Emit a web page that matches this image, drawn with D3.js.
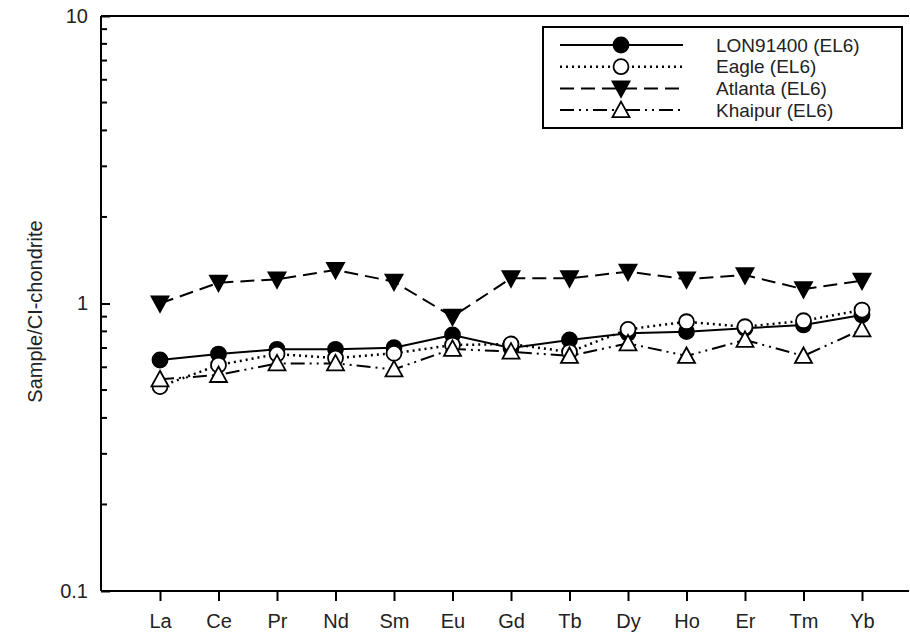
<!DOCTYPE html>
<html>
<head>
<meta charset="utf-8">
<script src="https://cdn.jsdelivr.net/npm/d3@7"></script>
<style>
  body { margin: 0; background: #fff; }
  svg text { font-family: "Liberation Sans", Arial, sans-serif; fill: #222; }
</style>
</head>
<body>
<svg id="chart" width="910" height="637"></svg>
<script>
// REE pattern, CI-chondrite normalised
var elements = ["La", "Ce", "Pr", "Nd", "Sm", "Eu", "Gd", "Tb", "Dy", "Ho", "Er", "Tm", "Yb"];
var lon91400 = [0.636, 0.667, 0.693, 0.693, 0.702, 0.777, 0.700, 0.747, 0.788, 0.798, 0.820, 0.842, 0.912];
var eagle    = [0.514, 0.611, 0.667, 0.646, 0.671, 0.717, 0.723, 0.678, 0.813, 0.864, 0.830, 0.871, 0.949];
var atlanta  = [1.000, 1.181, 1.214, 1.308, 1.191, 0.900, 1.224, 1.224, 1.290, 1.214, 1.256, 1.121, 1.200];
var khaipur  = [0.545, 0.564, 0.619, 0.619, 0.590, 0.695, 0.680, 0.657, 0.727, 0.657, 0.747, 0.657, 0.813];
var yTicks = [0.1, 1, 10];
var yTitle = "Sample/CI-chondrite";

var series = [
  { name: "LON91400 (EL6)", values: lon91400, dash: null,            marker: "circle",   fill: "#000" },
  { name: "Eagle (EL6)",    values: eagle,    dash: "2,4",           marker: "circle",   fill: "#fff" },
  { name: "Atlanta (EL6)",  values: atlanta,  dash: "14,7",          marker: "triDown",  fill: "#000" },
  { name: "Khaipur (EL6)",  values: khaipur,  dash: "14,5,2,5,2,5",  marker: "triUp",    fill: "#fff" }
];

var margin = { left: 101, top: 16, right: 909, bottom: 591 };
var svg = d3.select("#chart");

var x = d3.scalePoint()
  .domain(elements)
  .range([160, 862]);

var y = d3.scaleLog()
  .domain([0.1, 10])
  .range([margin.bottom, margin.top]);

// top frame line
svg.append("line")
  .attr("x1", margin.left).attr("x2", margin.right)
  .attr("y1", margin.top).attr("y2", margin.top)
  .attr("stroke", "#000").attr("stroke-width", 2);

// x axis
var xAxis = svg.append("g")
  .attr("transform", `translate(0,${margin.bottom})`)
  .call(d3.axisBottom(x).tickSize(10).tickPadding(13));
xAxis.select(".domain")
  .attr("d", `M${margin.left},0H${margin.right}`)
  .attr("stroke-width", 2);
xAxis.selectAll(".tick line").attr("stroke-width", 2);
xAxis.selectAll("text").attr("font-size", 20).style("fill", "#222");

// y axis, ticks pointing inwards
var minor = [];
[0.1, 1].forEach(function(d) {
  for (var i = 2; i <= 9; i++) minor.push(d * i);
});
var yAxis = svg.append("g")
  .attr("transform", `translate(${margin.left},0)`)
  .call(d3.axisRight(y).tickValues(yTicks).tickSize(9).tickFormat(d3.format("~g")));
yAxis.select(".domain").attr("d", `M0,${margin.top}V${margin.bottom}`).attr("stroke-width", 2);
yAxis.selectAll(".tick line").attr("stroke-width", 2);
yAxis.selectAll("text")
  .attr("x", -13)
  .attr("text-anchor", "end")
  .attr("font-size", 20)
  .style("fill", "#222");

svg.append("g")
  .selectAll("line")
  .data(minor)
  .join("line")
  .attr("x1", margin.left).attr("x2", margin.left + 6)
  .attr("y1", d => y(d)).attr("y2", d => y(d))
  .attr("stroke", "#000").attr("stroke-width", 2);

svg.append("text")
  .attr("transform", `translate(42,${(margin.top + margin.bottom) / 2 + 8}) rotate(-90)`)
  .attr("text-anchor", "middle")
  .attr("font-size", 20)
  .text(yTitle);

// marker drawing
function drawMarker(sel, s) {
  if (s.marker === "circle") {
    sel.append("circle").attr("r", 7.5);
  } else if (s.marker === "triDown") {
    sel.append("path").attr("d", "M-8.5,-7L8.5,-7L0,8.5Z");
  } else {
    sel.append("path").attr("d", "M0,-8.5L8.5,7L-8.5,7Z");
  }
  sel.selectAll("circle,path")
    .attr("fill", s.fill)
    .attr("stroke", "#000")
    .attr("stroke-width", 1.8);
}

var line = d3.line()
  .x((d, i) => x(elements[i]))
  .y(d => y(d));

series.forEach(function(s) {
  svg.append("path")
    .datum(s.values)
    .attr("d", line)
    .attr("fill", "none")
    .attr("stroke", "#000")
    .attr("stroke-width", s.dash === "2,4" ? 2.5 : 2)
    .attr("stroke-dasharray", s.dash);
});

series.forEach(function(s) {
  svg.append("g")
    .selectAll("g")
    .data(s.values)
    .join("g")
    .attr("transform", (d, i) => `translate(${x(elements[i])},${y(d)})`)
    .each(function() { drawMarker(d3.select(this), s); });
});

// legend
var legend = svg.append("g");
legend.append("rect")
  .attr("x", 543).attr("y", 27)
  .attr("width", 359).attr("height", 101)
  .attr("fill", "#fff").attr("stroke", "#000").attr("stroke-width", 2);

var rows = legend.selectAll("g.row")
  .data(series)
  .join("g")
  .attr("class", "row")
  .attr("transform", (d, i) => `translate(0,${45 + i * 21.7})`);

rows.append("line")
  .attr("x1", 560).attr("x2", 683)
  .attr("y1", 0).attr("y2", 0)
  .attr("stroke", "#000")
  .attr("stroke-width", d => d.dash === "2,4" ? 2.5 : 2)
  .attr("stroke-dasharray", d => d.dash);

rows.append("g")
  .attr("transform", "translate(621,0)")
  .each(function(d) { drawMarker(d3.select(this), d); });

rows.append("text")
  .attr("x", 716)
  .attr("dy", "0.35em")
  .attr("font-size", 19)
  .text(d => d.name);
</script>
</body>
</html>
